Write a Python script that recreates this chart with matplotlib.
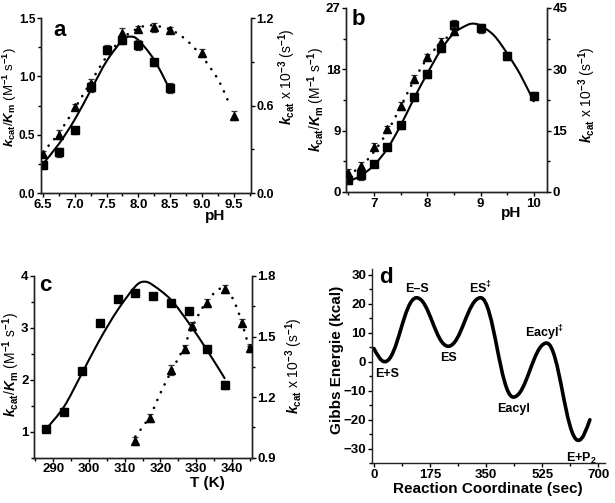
import numpy as np
import matplotlib
matplotlib.use("Agg")
import matplotlib.pyplot as plt
from matplotlib.path import Path
from matplotlib.patches import PathPatch
from matplotlib.ticker import MultipleLocator

plt.rcParams['font.family'] = ['Liberation Sans', 'DejaVu Sans']
plt.rcParams['font.weight'] = 'bold'
plt.rcParams['mathtext.fontset'] = 'custom'
plt.rcParams['mathtext.rm'] = 'Liberation Sans:bold'
plt.rcParams['mathtext.bf'] = 'Liberation Sans:bold'
plt.rcParams['mathtext.it'] = 'Liberation Sans:italic:bold'
plt.rcParams['mathtext.default'] = 'rm'

# ---------------- data: panel a (pH) ----------------
pH_a_sq = [6.5, 6.75, 7.0, 7.25, 7.5, 7.75, 8.0, 8.25, 8.5]
kcatKm_a = [0.24, 0.35, 0.54, 0.91, 1.23, 1.31, 1.27, 1.12, 0.90]
err_a_sq = [0.03, 0.04, 0.03, 0.04, 0.04, 0.03, 0.04, 0.03, 0.04]
pH_a_tr = [6.5, 6.75, 7.0, 7.25, 7.75, 8.0, 8.25, 8.5, 9.0, 9.5]
kcat_a = [0.27, 0.40, 0.59, 0.75, 1.10, 1.125, 1.135, 1.12, 0.96, 0.53]
err_a_tr = [0.02, 0.03, 0.02, 0.03, 0.03, 0.02, 0.03, 0.02, 0.03, 0.03]
fit_a_x = [6.5, 6.75, 7.0, 7.25, 7.5, 7.75, 7.875, 8.0, 8.25, 8.5]
fit_a_y = [0.25, 0.42, 0.63, 0.88, 1.13, 1.31, 1.34, 1.31, 1.14, 0.88]
dot_a_x = [6.5, 6.75, 7.0, 7.25, 7.5, 7.75, 8.0, 8.2, 8.5, 8.75, 9.0, 9.25, 9.4]
dot_a_y = [0.28, 0.41, 0.58, 0.76, 0.935, 1.06, 1.13, 1.15, 1.12, 1.05, 0.935, 0.78, 0.64]

# ---------------- data: panel b (pH) ----------------
pH_b_sq = [6.5, 6.75, 7.0, 7.25, 7.5, 7.75, 8.0, 8.25, 8.5, 9.0, 9.5, 10.0]
kcatKm_b = [1.8, 2.5, 4.1, 6.6, 9.8, 13.9, 17.3, 21.2, 24.5, 24.0, 19.9, 14.1]
err_b_sq = [0.6, 0.7, 0.4, 0.5, 0.5, 0.5, 0.6, 0.7, 0.7, 0.6, 0.6, 0.6]
pH_b_tr = [6.5, 6.75, 7.0, 7.25, 7.5, 7.75, 8.0, 8.25, 8.5]
kcat_b = [4.7, 6.4, 11.1, 15.3, 21.0, 27.6, 32.9, 36.8, 39.4]
err_b_tr = [1.0, 0.9, 0.9, 0.8, 0.9, 0.9, 0.9, 0.9, 0.9]
fit_b_x = [6.5, 6.75, 7.0, 7.25, 7.5, 7.75, 8.0, 8.25, 8.5, 8.75, 8.87, 9.0, 9.25, 9.5, 9.75, 10.0]
fit_b_y = [1.5, 2.4, 3.96, 6.4, 9.8, 13.75, 17.4, 20.8, 23.3, 24.5, 24.7, 24.4, 23.0, 20.35, 17.2, 13.3]
dot_b_x = [6.5, 6.75, 7.0, 7.25, 7.5, 7.75, 8.0, 8.25, 8.5]
dot_b_y = [4.2, 6.2, 9.9, 14.8, 20.9, 27.4, 32.7, 36.4, 39.2]

# ---------------- data: panel c (temperature) ----------------
T_c_sq = [288, 293, 298, 303, 308, 313, 318, 323, 328, 333, 338]
kcatKm_c = [1.06, 1.385, 2.17, 3.10, 3.55, 3.67, 3.61, 3.47, 3.33, 2.60, 1.90]
err_c_sq = [0.05, 0.07, 0.05, 0.06, 0.05, 0.05, 0.05, 0.05, 0.06, 0.06, 0.07]
T_c_tr = [313, 317, 323, 327, 329, 333, 338, 343, 345]
kcat_c = [0.982, 1.098, 1.334, 1.438, 1.553, 1.668, 1.734, 1.565, 1.445]
err_c_tr = [0.02, 0.02, 0.025, 0.02, 0.02, 0.02, 0.02, 0.02, 0.02]
fit_c_x = [288, 293, 298, 303, 308, 313, 315.5, 318, 323, 328, 333, 338]
fit_c_y = [1.05, 1.48, 2.12, 2.77, 3.34, 3.80, 3.89, 3.82, 3.54, 3.09, 2.58, 2.03]
dot_c_x = [313, 317, 320, 323, 326, 329, 332, 335, 337.5, 340, 342, 344, 345]
dot_c_y = [1.004, 1.103, 1.219, 1.326, 1.425, 1.549, 1.648, 1.714, 1.739, 1.697, 1.615, 1.499, 1.433]

# ---------------- data: panel d (energy profile) ----------------
rc_d = [0, 34, 133, 232, 333, 435, 539, 638, 674]
G_d = [4.5, 0, 22, 5.3, 22, -12.2, 6.4, -27.1, -20]
labels_d = ['', 'E+S', 'E\u2013S', 'ES', r'ES$^{\ddag}$', 'Eacyl', r'Eacyl$^{\ddag}$', r'E+P$_2$', '']
label_off_d = [(0, 0), (2, -12), (0, 9), (0, -12), (0, 10), (0, -12), (-2, 10), (3, -18), (0, 0)]


def catmull_path(xs, ys):
    pts = np.column_stack([xs, ys]).astype(float)
    verts = [pts[0]]
    codes = [Path.MOVETO]
    n = len(pts)
    for i in range(n - 1):
        p0 = pts[i - 1] if i > 0 else pts[i]
        p1 = pts[i]
        p2 = pts[i + 1]
        p3 = pts[i + 2] if i + 2 < n else pts[i + 1]
        verts += [p1 + (p2 - p0) / 6.0, p2 - (p3 - p1) / 6.0, p2]
        codes += [Path.CURVE4] * 3
    return Path(verts, codes)


def extrema_path(xs, ys, k=0.4):
    verts = [(xs[0], ys[0])]
    codes = [Path.MOVETO]
    n = len(xs)
    for i in range(n - 1):
        x1, y1, x2, y2 = xs[i], ys[i], xs[i + 1], ys[i + 1]
        dx = x2 - x1
        if i == 0:
            c1 = (x1 + 0.3 * dx, y1 + 0.45 * (y2 - y1))
        else:
            c1 = (x1 + k * dx, y1)
        if i == n - 2:
            c2 = (x2 - 0.3 * dx, y2 - 0.45 * (y2 - y1))
        else:
            c2 = (x2 - k * dx, y2)
        verts += [c1, c2, (x2, y2)]
        codes += [Path.CURVE4] * 3
    return Path(verts, codes)


def add_curve(ax, xs, ys, dotted=False, lw=1.5):
    if dotted:
        patch = PathPatch(catmull_path(xs, ys), fill=False, edgecolor='black',
                          lw=1.9, linestyle=(0, (0.05, 3.2)), capstyle='round')
    else:
        patch = PathPatch(catmull_path(xs, ys), fill=False, edgecolor='black',
                          lw=lw, linestyle='-', capstyle='round')
    ax.add_patch(patch)


def style_axis(ax, ysize=9.5):
    ax.spines['top'].set_visible(False)
    for s in ['left', 'bottom', 'right']:
        ax.spines[s].set_linewidth(1.0)
        ax.spines[s].set_color('#222222')
    ax.tick_params(which='major', direction='out', length=3, width=1, labelsize=9.5, pad=1)
    ax.tick_params(axis='y', which='major', labelsize=ysize)
    ax.tick_params(which='minor', direction='out', length=2, width=1)
    for lab in ax.get_xticklabels() + ax.get_yticklabels():
        lab.set_fontweight('bold')


def scatter_err(ax, x, y, e, marker, ms):
    ax.errorbar(x, y, yerr=e, fmt=marker, color='black', ms=ms, mec='black',
                ecolor='#333333', elinewidth=0.9, capsize=2, capthick=0.9, zorder=3)


fig = plt.figure(figsize=(6.15, 5.03), dpi=100)

ylab_left = r'$\mathit{k}_{\mathrm{cat}}$/$\mathit{K}_{\mathrm{m}}$ (M$^{-1}$ s$^{-1}$)'
ylab_right = r'$\mathit{k}_{\mathrm{cat}}$ x 10$^{-3}$ (s$^{-1}$)'
LFS = 10
SQ, TR = 5.2, 6.2

# ---------------- panel a ----------------
ax = fig.add_axes([0.0667, 0.6163, 0.3415, 0.3479])
axr = ax.twinx()
ax.set_xlim(6.47, 9.77)
ax.set_ylim(0, 1.5)
axr.set_ylim(0, 1.2)
add_curve(ax, fit_a_x, fit_a_y)
add_curve(axr, dot_a_x, dot_a_y, dotted=True)
scatter_err(ax, pH_a_sq, kcatKm_a, err_a_sq, 's', SQ)
scatter_err(axr, pH_a_tr, kcat_a, err_a_tr, '^', TR)
ax.set_xticks([6.5, 7.0, 7.5, 8.0, 8.5, 9.0, 9.5])
ax.set_xticklabels(['6.5', '7.0', '7.5', '8.0', '8.5', '9.0', '9.5'])
ax.xaxis.set_minor_locator(MultipleLocator(0.25))
ax.set_yticks([0.0, 0.5, 1.0, 1.5])
ax.set_yticklabels(['0.0', '0.5', '1.0', '1.5'])
ax.yaxis.set_minor_locator(MultipleLocator(0.25))
axr.set_yticks([0.0, 0.6, 1.2])
axr.set_yticklabels(['0.0', '0.6', '1.2'])
axr.yaxis.set_minor_locator(MultipleLocator(0.3))
style_axis(ax, ysize=8.5); style_axis(axr, ysize=9)
ax.set_ylabel(ylab_left, fontsize=9.5)
ax.yaxis.set_label_coords(-0.107, 0.55)
axr.set_ylabel(ylab_right, fontsize=LFS)
axr.yaxis.set_label_coords(1.119, 0.663)
ax.text(0.83, -0.13, 'pH', transform=ax.transAxes, fontsize=11, fontweight='bold',
        ha='center', va='center')
ax.text(0.09, 0.93, 'a', transform=ax.transAxes, fontsize=16, fontweight='bold',
        ha='center', va='center')

# ---------------- panel b ----------------
ax = fig.add_axes([0.5626, 0.6183, 0.3268, 0.3658])
axr = ax.twinx()
ax.set_xlim(6.47, 10.25)
ax.set_ylim(0, 27)
axr.set_ylim(0, 45)
add_curve(ax, fit_b_x, fit_b_y)
add_curve(axr, dot_b_x, dot_b_y, dotted=True)
scatter_err(ax, pH_b_sq, kcatKm_b, err_b_sq, 's', SQ)
scatter_err(axr, pH_b_tr, kcat_b, err_b_tr, '^', TR)
ax.set_xticks([7, 8, 9, 10])
ax.xaxis.set_minor_locator(MultipleLocator(0.5))
ax.set_yticks([0, 9, 18, 27])
ax.yaxis.set_minor_locator(MultipleLocator(4.5))
axr.set_yticks([0, 15, 30, 45])
axr.yaxis.set_minor_locator(MultipleLocator(7.5))
style_axis(ax); style_axis(axr)
ax.set_ylabel(ylab_left, fontsize=LFS)
ax.yaxis.set_label_coords(-0.0945, 0.5)
axr.set_ylabel(ylab_right, fontsize=LFS)
axr.yaxis.set_label_coords(1.144, 0.527)
ax.text(0.82, -0.115, 'pH', transform=ax.transAxes, fontsize=11, fontweight='bold',
        ha='center', va='center')
ax.text(0.06, 0.935, 'b', transform=ax.transAxes, fontsize=16, fontweight='bold',
        ha='center', va='center')

# ---------------- panel c ----------------
ax = fig.add_axes([0.0553, 0.0903, 0.354, 0.361])
axr = ax.twinx()
ax.set_xlim(284.6, 345.6)
ax.set_ylim(0.5, 4)
axr.set_ylim(0.9, 1.8)
add_curve(ax, fit_c_x, fit_c_y)
add_curve(axr, dot_c_x, dot_c_y, dotted=True)
scatter_err(ax, T_c_sq, kcatKm_c, err_c_sq, 's', SQ)
scatter_err(axr, T_c_tr, kcat_c, err_c_tr, '^', TR)
ax.set_xticks([290, 300, 310, 320, 330, 340])
ax.xaxis.set_minor_locator(MultipleLocator(5))
ax.set_yticks([1, 2, 3, 4])
ax.yaxis.set_minor_locator(MultipleLocator(0.5))
axr.set_yticks([0.9, 1.2, 1.5, 1.8])
axr.yaxis.set_minor_locator(MultipleLocator(0.15))
style_axis(ax); style_axis(axr)
ax.set_ylabel(ylab_left, fontsize=LFS)
ax.yaxis.set_label_coords(-0.055, 0.51)
axr.set_ylabel(ylab_right, fontsize=LFS)
axr.yaxis.set_label_coords(1.144, 0.504)
ax.text(0.795, -0.14, 'T (K)', transform=ax.transAxes, fontsize=11, fontweight='bold',
        ha='center', va='center')
ax.text(0.05, 0.95, 'c', transform=ax.transAxes, fontsize=16, fontweight='bold',
        ha='center', va='center')

# ---------------- panel d ----------------
ax = fig.add_axes([0.6044, 0.0789, 0.3787, 0.3869])
ax.set_xlim(-7, 720)
ax.set_ylim(-35, 32)
ax.add_patch(PathPatch(extrema_path(rc_d, G_d), fill=False, edgecolor='black',
                       lw=2.6, capstyle='round'))
for xv, yv, lab, off in zip(rc_d, G_d, labels_d, label_off_d):
    if lab:
        ax.annotate(lab, (xv, yv), xytext=off, textcoords='offset pixels',
                    ha='center', va='center', fontsize=9, fontweight='bold')
ax.set_xticks([0, 175, 350, 525, 700])
ax.xaxis.set_minor_locator(MultipleLocator(87.5))
ax.set_yticks([-30, -20, -10, 0, 10, 20, 30])
ax.yaxis.set_minor_locator(MultipleLocator(5))
style_axis(ax)
ax.spines['right'].set_visible(False)
ax.set_xlabel('Reaction Coordinate (sec)', fontsize=11, fontweight='bold', labelpad=1)
ax.set_ylabel('Gibbs Energie (kcal)', fontsize=11, fontweight='bold')
ax.yaxis.set_label_coords(-0.119, 0.53)
ax.text(0.06, 0.955, 'd', transform=ax.transAxes, fontsize=16, fontweight='bold',
        ha='center', va='center')

fig.savefig('out.png', dpi=100)
